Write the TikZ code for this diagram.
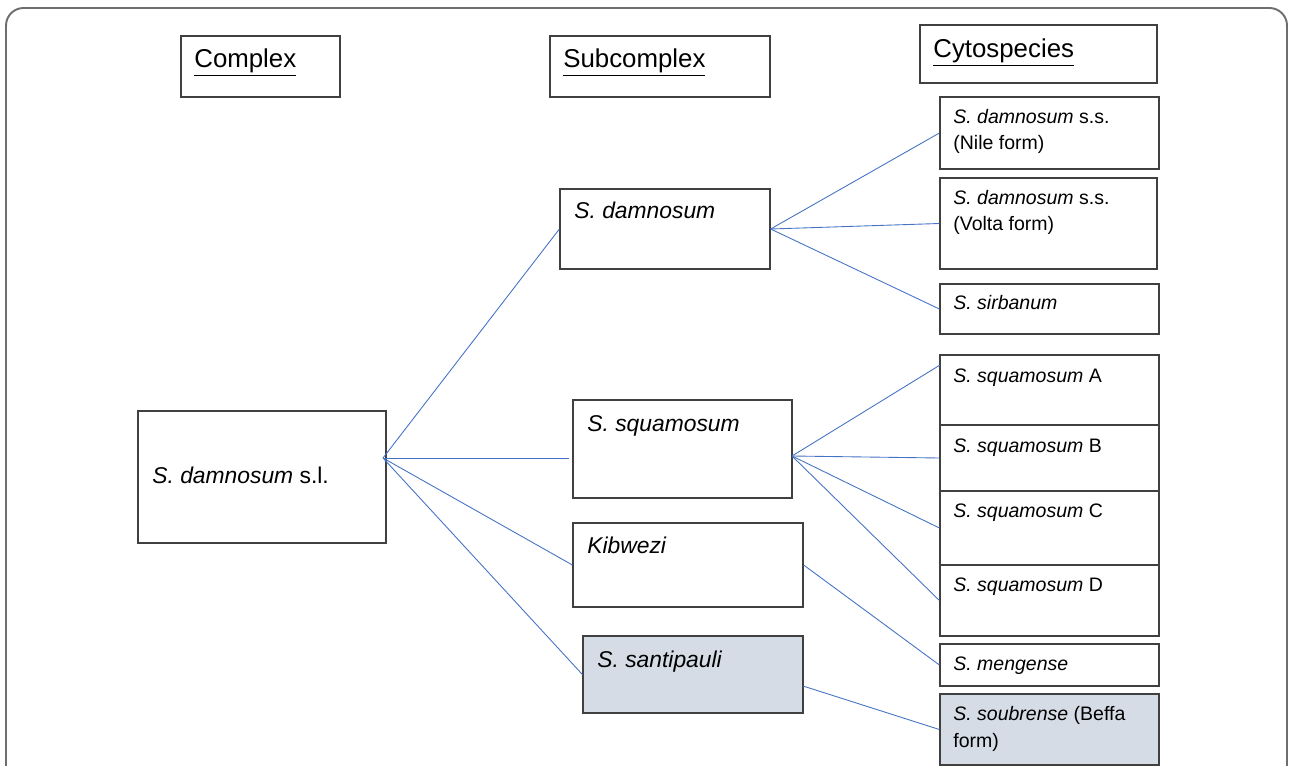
\documentclass[tikz,border=0pt]{standalone}
\usepackage{fontspec}
\setmainfont{Liberation Sans}
\usetikzlibrary{fit}
\definecolor{boxgray}{HTML}{404040}
\definecolor{boxfill}{HTML}{D6DCE5}
\definecolor{linkblue}{HTML}{4472C4}
\definecolor{framegray}{HTML}{6E6E6E}

\begin{document}
\begin{tikzpicture}[x=0.02cm, y=-0.02cm,
    box/.style={draw=boxgray, line width=0.7pt, inner sep=0pt},
    greybox/.style={box, fill=boxfill},
    head/.style={anchor=base west, inner sep=0pt, font=\fontsize{14.7}{17}\selectfont},
    big/.style={anchor=base west, inner sep=0pt, font=\fontsize{13}{16}\selectfont},
    small/.style={anchor=base west, inner sep=0pt, align=left, font=\fontsize{11.1}{15.3}\selectfont},
    link/.style={draw=linkblue, line width=0.5pt}]
    \clip (0, 0) rectangle (1290, 766);
    \draw [framegray, line width=1.1pt, rounded corners=10] (6, 800) -- (6, 8) -- (1287, 8) -- (1287, 800);

    % column headings
    \node [box, fit={(181, 36) (340, 97)}] (complex) {};
    \node [head] (complex-t) at (194, 68) {\underline{Complex}};
    \node [box, fit={(550, 36) (770, 97)}] (subcomplex) {};
    \node [head] (subcomplex-t) at (563, 68) {\underline{Subcomplex}};
    \node [box, fit={(920, 25) (1157, 83)}] (cyto) {};
    \node [head] (cyto-t) at (933, 58) {\underline{Cytospecies}};

    % complex
    \node [box, fit={(138, 411) (386, 543)}] (sl) {};
    \node [big] (sl-t) at (152, 483) {\textit{S. damnosum} s.l.};

    % subcomplexes
    \node [box, fit={(560, 189) (770, 269)}] (dam) {};
    \node [big] (dam-t) at (574, 219) {\textit{S. damnosum}};
    \node [box, fit={(573, 400) (792, 498)}] (squ) {};
    \node [big] (squ-t) at (587, 431) {\textit{S. squamosum}};
    \node [box, fit={(573, 523) (803, 607)}] (kib) {};
    \node [big] (kib-t) at (587, 553) {\textit{Kibwezi}};
    \node [greybox, fit={(583, 636) (803, 713)}] (sant) {};
    \node [big] (sant-t) at (597, 667) {\textit{S. santipauli}};

    % cytospecies (two-line texts sit on their last line)
    \node [box, fit={(940, 97) (1159, 169)}] (nile) {};
    \node [small] (nile-t) at (953, 150) {\textit{S. damnosum} s.s.\\(Nile form)};
    \node [box, fit={(940, 178) (1157, 269)}] (volta) {};
    \node [small] (volta-t) at (953, 231) {\textit{S. damnosum} s.s.\\(Volta form)};
    \node [box, fit={(940, 284) (1159, 334)}] (sirb) {};
    \node [small] (sirb-t) at (953, 310) {\textit{S. sirbanum}};
    \node [box, fit={(940, 355) (1159, 425)}] (sqa) {};
    \node [small] (sqa-t) at (953, 382) {\textit{S. squamosum} A};
    \node [box, fit={(940, 425) (1159, 491)}] (sqb) {};
    \node [small] (sqb-t) at (953, 452) {\textit{S. squamosum} B};
    \node [box, fit={(940, 491) (1159, 565)}] (sqc) {};
    \node [small] (sqc-t) at (953, 517) {\textit{S. squamosum} C};
    \node [box, fit={(940, 565) (1159, 636)}] (sqd) {};
    \node [small] (sqd-t) at (953, 591) {\textit{S. squamosum} D};
    \node [box, fit={(940, 644) (1159, 686)}] (meng) {};
    \node [small] (meng-t) at (953, 670) {\textit{S. mengense}};
    \node [greybox, fit={(940, 694) (1159, 765)}] (soub) {};
    \node [small] (soub-t) at (953, 747) {\textit{S. soubrense} (Beffa\\form)};

    % branch points
    \coordinate (slhub) at (383, 458);
    \coordinate (squ-in) at (569, 458);
    \coordinate (squhub) at (792, 456);
    \coordinate (sqa-in) at (940, 365);
    \coordinate (sant-out) at (803, 686);

    \draw [link] (slhub) -- (dam.west);
    \draw [link] (slhub) -- (squ-in);
    \draw [link] (slhub) -- (kib.west);
    \draw [link] (slhub) -- (sant.west);
    \draw [link] (dam.east) -- (nile.west);
    \draw [link] (dam.east) -- (volta.west);
    \draw [link] (dam.east) -- (sirb.west);
    \draw [link] (squhub) -- (sqa-in);
    \draw [link] (squhub) -- (sqb.west);
    \draw [link] (squhub) -- (sqc.west);
    \draw [link] (squhub) -- (sqd.west);
    \draw [link] (kib.east) -- (meng.west);
    \draw [link] (sant-out) -- (soub.west);
\end{tikzpicture}
\end{document}
